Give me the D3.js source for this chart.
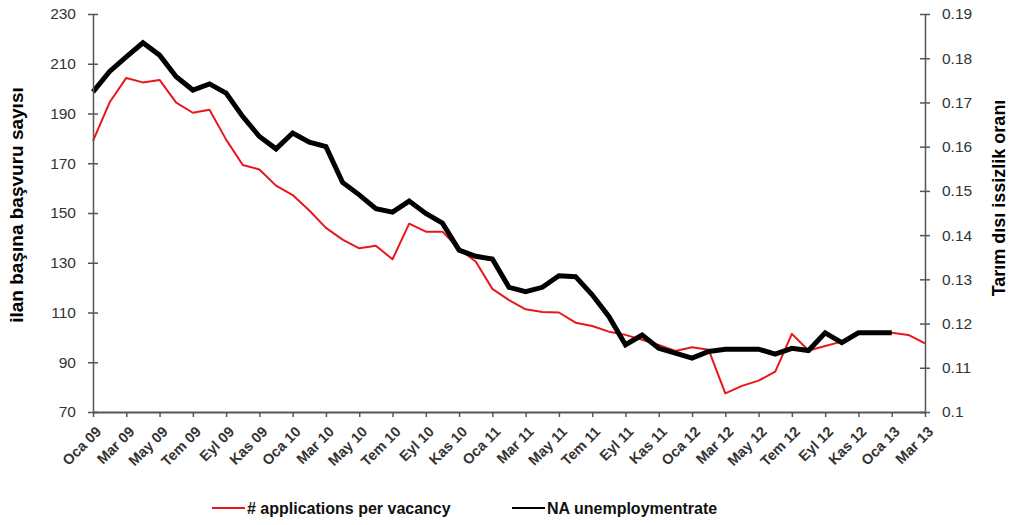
<!DOCTYPE html>
<html>
<head>
<meta charset="utf-8">
<script src="https://cdn.jsdelivr.net/npm/d3@7"></script>
<style>
  body { margin: 0; background: #fff; }
  svg { display: block; }
</style>
</head>
<body>
<script>
// monthly labels, Oca 09 .. Mar 13
let monthNames = ["Oca", "Şub", "Mar", "Nis", "May", "Haz", "Tem", "Ağu", "Eyl", "Eki", "Kas", "Ara"];
let months = [];
for (let yr = 9; yr <= 13; yr++) {
    for (let m = 0; m < 12; m++) {
        if (yr === 13 && m > 2) break;
        months.push(monthNames[m] + " " + (yr < 10 ? "0" + yr : yr));
    }
}

// # applications per vacancy (left axis)
let applications = [179, 194.5, 204.3, 202.5, 203.5, 194.4, 190.3, 191.5, 179.5, 169.3, 167.5, 161,
    157.2, 151, 144, 139.3, 135.8, 136.8, 131.4, 145.7, 142.5, 142.5, 135.5, 130.5,
    119.5, 115, 111.3, 110.2, 110, 105.9, 104.6, 102.3, 101, 99, 97, 94.5,
    96, 95, 77.5, 80.5, 82.6, 86.2, 101.4, 94.7, 96.5, 98.3, 101.4, 101.9,
    101.9, 101, 97.6];

// NA unemployment rate (right axis), ends Oca 13
let unemployment = [0.1724, 0.1770, 0.1803, 0.1835, 0.1807, 0.1758, 0.1728, 0.1742, 0.1721, 0.1668, 0.1623, 0.1595,
    0.1631, 0.1610, 0.1600, 0.1519, 0.1491, 0.1460, 0.1452, 0.1477, 0.1449, 0.1427, 0.1366, 0.1352,
    0.1346, 0.1282, 0.1272, 0.1282, 0.1308, 0.1306, 0.1265, 0.1216, 0.1152, 0.1174, 0.1144, 0.1133,
    0.1122, 0.1137, 0.1142, 0.1142, 0.1142, 0.1131, 0.1144, 0.1139, 0.1179, 0.1157, 0.1179, 0.1179,
    0.1179];

let leftTicks = [70, 90, 110, 130, 150, 170, 190, 210, 230];
let rightTicks = [0.1, 0.11, 0.12, 0.13, 0.14, 0.15, 0.16, 0.17, 0.18, 0.19];
let xTickLabels = months.filter(function(d, i) { return i % 2 === 0; });

// set the dimensions and margins of the graph
let margin = {top: 14, right: 86, bottom: 113, left: 93},
    width = 1011 - margin.left - margin.right,
    height = 525 - margin.top - margin.bottom;

let x = d3.scalePoint().domain(months).range([0, width]);
let yL = d3.scaleLinear().domain([70, 230]).range([height, 0]);
let yR = d3.scaleLinear().domain([0.1, 0.19]).range([height, 0]);

let svg = d3.select("body").append("svg")
    .attr("width", 1011)
    .attr("height", 525);

let g = svg.append("g")
    .attr("transform", "translate(" + margin.left + "," + margin.top + ")");

let axisColor = "#555";
let labelColor = "#333";

// lines
let appLine = d3.line()
    .x(function(d, i) { return x(months[i]); })
    .y(function(d) { return yL(d); });

let unLine = d3.line()
    .x(function(d, i) { return x(months[i]); })
    .y(function(d) { return yR(d); });

g.append("path")
    .datum(applications)
    .attr("fill", "none")
    .attr("stroke", "#e8171c")
    .attr("stroke-width", 2)
    .attr("stroke-linejoin", "round")
    .attr("d", appLine);

g.append("path")
    .datum(unemployment)
    .attr("fill", "none")
    .attr("stroke", "#000")
    .attr("stroke-width", 5)
    .attr("stroke-linejoin", "miter")
    .attr("d", unLine);

// left axis
let leftAxis = g.append("g")
    .call(d3.axisLeft(yL).tickValues(leftTicks).tickSize(5).tickSizeOuter(0).tickPadding(12));
leftAxis.selectAll("line").attr("x2", -5).attr("x1", 5).attr("stroke", axisColor).attr("stroke-width", 1.5);
leftAxis.select(".domain").attr("stroke", axisColor).attr("stroke-width", 1.5);
leftAxis.selectAll("text")
    .attr("fill", labelColor)
    .style("font-family", "Liberation Sans, Arial, sans-serif")
    .style("font-size", "15.5px");

// right axis
let rightAxis = g.append("g")
    .attr("transform", "translate(" + width + ",0)")
    .call(d3.axisRight(yR).tickValues(rightTicks).tickFormat(d3.format("")).tickSize(5).tickSizeOuter(0).tickPadding(12));
rightAxis.selectAll("line").attr("x2", 5).attr("x1", -5).attr("stroke", axisColor).attr("stroke-width", 1.5);
rightAxis.select(".domain").attr("stroke", axisColor).attr("stroke-width", 1.5);
rightAxis.selectAll("text")
    .attr("fill", labelColor)
    .style("font-family", "Liberation Sans, Arial, sans-serif")
    .style("font-size", "15.5px");

// bottom axis
let bottomAxis = g.append("g")
    .attr("transform", "translate(0," + height + ")")
    .call(d3.axisBottom(x).tickValues(xTickLabels).tickSize(5).tickSizeOuter(0));
bottomAxis.selectAll("line").attr("stroke", axisColor).attr("stroke-width", 1.5);
bottomAxis.select(".domain").attr("stroke", axisColor).attr("stroke-width", 2);
bottomAxis.selectAll("text")
    .attr("fill", labelColor)
    .attr("text-anchor", "end")
    .attr("dy", "0.35em")
    .attr("transform", "translate(5,17) rotate(-45)")
    .attr("x", 0)
    .attr("y", 0)
    .style("font-family", "Liberation Sans, Arial, sans-serif")
    .style("font-weight", "bold")
    .style("font-size", "14.5px");

// axis titles
svg.append("text")
    .attr("transform", "translate(23,205) rotate(-90)")
    .attr("text-anchor", "middle")
    .style("font-family", "Liberation Sans, Arial, sans-serif")
    .style("font-weight", "bold")
    .style("font-size", "19px")
    .attr("fill", "#000")
    .text("ilan başına başvuru sayısı");

svg.append("text")
    .attr("transform", "translate(1005,198) rotate(-90)")
    .attr("text-anchor", "middle")
    .style("font-family", "Liberation Sans, Arial, sans-serif")
    .style("font-weight", "bold")
    .style("font-size", "18px")
    .attr("fill", "#000")
    .text("Tarım dısı issizlik oranı");

// legend
let legendItems = [
    {label: "# applications per vacancy", color: "#e8171c", w: 2, x: 212},
    {label: "NA unemploymentrate", color: "#000", w: 2, x: 512}
];
let legend = svg.selectAll(".legend")
    .data(legendItems)
    .enter().append("g")
    .attr("class", "legend")
    .attr("transform", function(d) { return "translate(" + d.x + ",508)"; });
legend.append("line")
    .attr("x1", 0).attr("x2", 33)
    .attr("stroke", function(d) { return d.color; })
    .attr("stroke-width", function(d) { return d.w; });
legend.append("text")
    .attr("x", 35)
    .attr("dy", "0.35em")
    .style("font-family", "Liberation Sans Narrow, Arial Narrow, Liberation Sans, sans-serif")
    .style("font-weight", "bold")
    .style("font-size", "16px")
    .attr("fill", "#111")
    .text(function(d) { return d.label; });
</script>
</body>
</html>
